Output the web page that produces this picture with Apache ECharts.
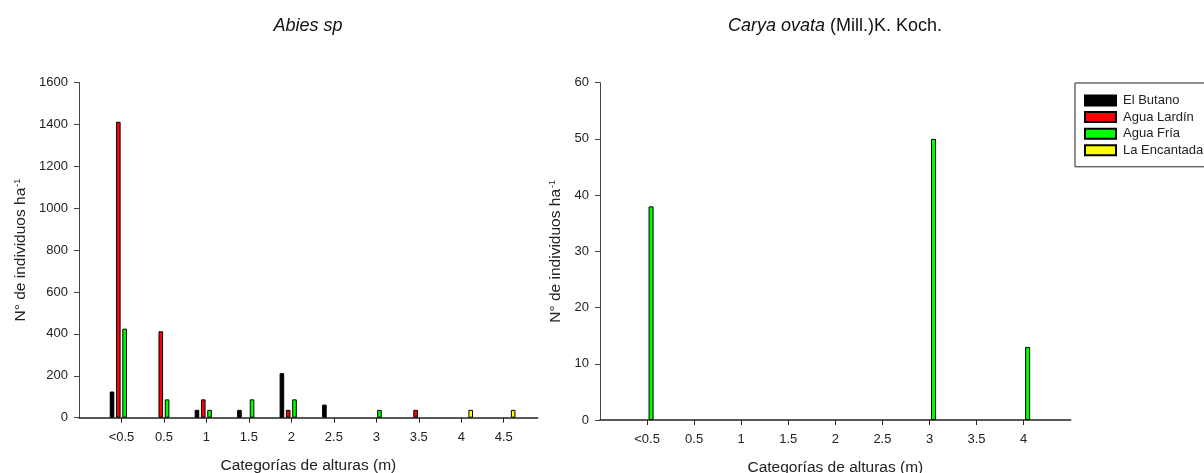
<!DOCTYPE html>
<html>
<head>
<meta charset="utf-8">
<script src="https://cdn.jsdelivr.net/npm/echarts@6/dist/echarts.min.js"></script>
<style>
  html, body { margin: 0; padding: 0; background: #fff; }
  #chart { width: 1204px; height: 473px; }
</style>
</head>
<body>
<div id="chart"></div>
<script>
// categorias de alturas
var catsAbies = ["<0.5", "0.5", "1", "1.5", "2", "2.5", "3", "3.5", "4", "4.5"];
var catsCarya = ["<0.5", "0.5", "1", "1.5", "2", "2.5", "3", "3.5", "4"];

var siteNames = ["El Butano", "Agua Lardín", "Agua Fría", "La Encantada"];
var siteColors = ["#000000", "#ff0000", "#00ff00", "#ffff00"];

// Abies sp (N° ind/ha)
var abiesButano = [125, 0, 37.5, 37.5, 212.5, 62.5, 0, 0, 0, 0];
var abiesLardin = [1412.5, 412.5, 87.5, 0, 37.5, 0, 0, 37.5, 0, 0];
var abiesFria = [425, 87.5, 37.5, 87.5, 87.5, 0, 37.5, 0, 0, 0];
var abiesEncantada = [0, 0, 0, 0, 0, 0, 0, 0, 37.5, 37.5];

// Carya ovata
var caryaButano = [0, 0, 0, 0, 0, 0, 0, 0, 0];
var caryaLardin = [0, 0, 0, 0, 0, 0, 0, 0, 0];
var caryaFria = [38, 0, 0, 0, 0, 0, 50, 0, 13];
var caryaEncantada = [0, 0, 0, 0, 0, 0, 0, 0, 0];

var abiesData = [abiesButano, abiesLardin, abiesFria, abiesEncantada];
var caryaData = [caryaButano, caryaLardin, caryaFria, caryaEncantada];

var font = "Liberation Sans, Arial, sans-serif";
var txt = "#222";

function toPoints(arr) {
  var out = [];
  arr.forEach(function (v, i) {
    if (v > 0) out.push([i, v]);
  });
  return out;
}

function idx(n) {
  var a = [];
  for (var i = 0; i < n; i++) a.push(i);
  return a;
}

function xAxisFor(gridIndex, cats, max) {
  return {
    type: "value",
    gridIndex: gridIndex,
    min: -1,
    max: max,
    name: "Categorías de alturas (m)",
    nameLocation: "middle",
    nameGap: 40,
    nameTextStyle: { fontFamily: font, fontSize: 15.5, color: txt },
    splitLine: { show: false },
    axisLine: { show: true, onZero: false, lineStyle: { color: "#222", width: 1.5 } },
    axisTick: { show: true, length: 5, customValues: idx(cats.length), lineStyle: { color: "#222" } },
    axisLabel: {
      customValues: idx(cats.length),
      margin: 13,
      fontFamily: font,
      fontSize: 13,
      color: txt,
      formatter: function (v) { return cats[v]; }
    }
  };
}

function yAxisFor(gridIndex, max, interval, gap) {
  return {
    type: "value",
    gridIndex: gridIndex,
    min: 0,
    max: max,
    interval: interval,
    name: "{a|N° de individuos ha}{s|-1}",
    nameLocation: "middle",
    nameGap: gap,
    nameTextStyle: {
      fontFamily: font,
      color: txt,
      rich: {
        a: { fontFamily: font, fontSize: 15.5, color: txt },
        s: { fontFamily: font, fontSize: 9, color: txt, verticalAlign: "top", padding: [0, 0, 0, 1] }
      }
    },
    splitLine: { show: false },
    axisLine: { show: true, onZero: false, lineStyle: { color: "#444", width: 1 } },
    axisTick: { show: true, length: 5, lineStyle: { color: "#444" } },
    axisLabel: {
      margin: 11,
      fontFamily: font,
      fontSize: 13,
      color: txt,
      formatter: function (v) { return String(v); }
    }
  };
}

var series = [];
siteNames.forEach(function (name, k) {
  series.push({
    name: name,
    type: "bar",
    xAxisIndex: 0,
    yAxisIndex: 0,
    barWidth: 4.6,
    barGap: "37%",
    itemStyle: { color: siteColors[k], borderColor: "#000", borderWidth: 1 },
    data: toPoints(abiesData[k])
  });
});
siteNames.forEach(function (name, k) {
  series.push({
    name: name,
    type: "bar",
    xAxisIndex: 1,
    yAxisIndex: 1,
    barWidth: 5,
    barGap: "60%",
    itemStyle: { color: siteColors[k], borderColor: "#000", borderWidth: 1 },
    data: toPoints(caryaData[k])
  });
});

var chart = echarts.init(document.getElementById("chart"), null, { renderer: "canvas" });
chart.setOption({
  animation: false,
  backgroundColor: "#fff",
  title: [
    {
      text: "{i|Abies sp}",
      left: 308,
      textAlign: "center",
      top: 17,
      padding: 0,
      textStyle: { fontWeight: "normal", rich: { i: { fontFamily: font, fontSize: 18, fontStyle: "italic", fontWeight: "normal", color: "#111" } } }
    },
    {
      text: "{i|Carya ovata} {n|(Mill.)K. Koch.}",
      left: 835,
      textAlign: "center",
      top: 17,
      padding: 0,
      textStyle: {
        fontWeight: "normal",
        rich: {
          i: { fontFamily: font, fontSize: 18, fontStyle: "italic", fontWeight: "normal", color: "#111" },
          n: { fontFamily: font, fontSize: 18, fontWeight: "normal", color: "#111" }
        }
      }
    }
  ],
  legend: {
    data: siteNames,
    orient: "vertical",
    left: 1075,
    top: 83,
    padding: [11, 30, 10, 9],
    itemWidth: 31,
    itemHeight: 10,
    itemGap: 3.6,
    icon: "rect",
    borderColor: "#222",
    borderWidth: 1,
    textStyle: { fontFamily: font, fontSize: 13, color: txt, padding: [0, 0, 0, 2] }
  },
  grid: [
    { left: 79, right: 666.3, top: 82.5, bottom: 55.3, outerBoundsMode: "none" },
    { left: 600, right: 133.3, top: 82.7, bottom: 53, outerBoundsMode: "none" }
  ],
  xAxis: [xAxisFor(0, catsAbies, 9.8), xAxisFor(1, catsCarya, 9)],
  yAxis: [yAxisFor(0, 1600, 200, 50), yAxisFor(1, 60, 10, 36)],
  series: series
});
</script>
</body>
</html>
